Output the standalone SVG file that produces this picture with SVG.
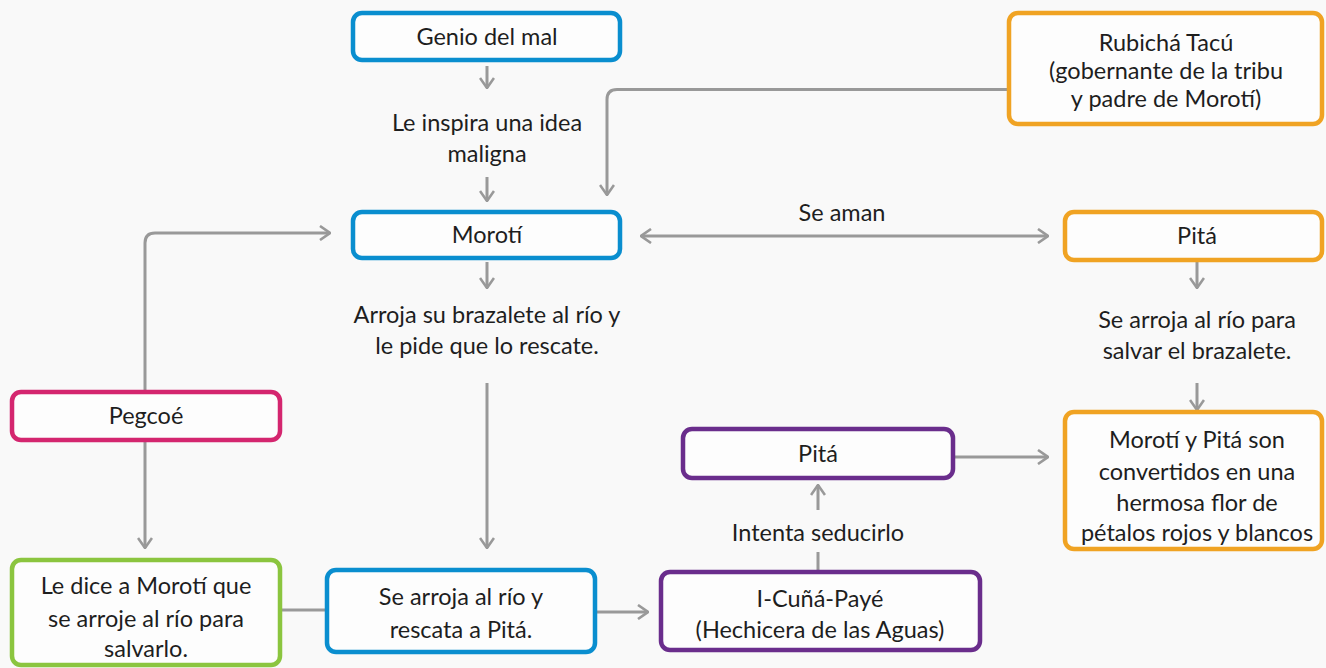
<svg xmlns="http://www.w3.org/2000/svg" width="1326" height="668" viewBox="0 0 1326 668">
<defs>
<marker id="ah" viewBox="0 0 12 16" refX="11" refY="8" markerWidth="12" markerHeight="16" markerUnits="userSpaceOnUse" orient="auto-start-reverse">
<path d="M1,1 L11,8 L1,15" fill="none" stroke="#999999" stroke-width="2.6"/>
</marker>
<style>
.bx{fill:#fdfdfd;stroke-width:4.5}
.blue{stroke:#0a8ecf}
.orange{stroke:#f0a323}
.pink{stroke:#d4266f}
.green{stroke:#8bc53f}
.purple{stroke:#6a2d8c}
text{font-family:Lato,"Liberation Sans",sans-serif;font-size:23.5px;fill:#1e1e1e;text-anchor:middle}
.c{fill:none;stroke:#999999;stroke-width:3}
</style>
</defs>
<rect width="1326" height="668" fill="#f9f9f9"/>
<g id="connectors">
<path class="c" d="M487,66 V88" marker-end="url(#ah)"/>
<path class="c" d="M487,177 V201" marker-end="url(#ah)"/>
<path class="c" d="M1008,89.5 H617 Q607,89.5 607,99.5 V195" marker-end="url(#ah)"/>
<path class="c" d="M641,236 H1048" marker-start="url(#ah)" marker-end="url(#ah)"/>
<path class="c" d="M487,262 V288" marker-end="url(#ah)"/>
<path class="c" d="M1197,262 V288" marker-end="url(#ah)"/>
<path class="c" d="M1197,383 V410" marker-end="url(#ah)"/>
<path class="c" d="M145,392 V243 Q145,233 155,233 H330" marker-end="url(#ah)"/>
<path class="c" d="M145,440 V548" marker-end="url(#ah)"/>
<path class="c" d="M487,383 V548" marker-end="url(#ah)"/>
<path class="c" d="M280,610 H327"/>
<path class="c" d="M595,612 H648" marker-end="url(#ah)"/>
<path class="c" d="M818,570 V552"/>
<path class="c" d="M818,510 V485" marker-end="url(#ah)"/>
<path class="c" d="M953,457 H1048" marker-end="url(#ah)"/>
<text x="842" y="221">Se aman</text>
<text x="487" y="131">Le inspira una idea</text>
<text x="487" y="162">maligna</text>
<text x="487" y="323">Arroja su brazalete al río y</text>
<text x="487" y="354">le pide que lo rescate.</text>
<text x="1197" y="328">Se arroja al río para</text>
<text x="1197" y="359">salvar el brazalete.</text>
<text x="818" y="541">Intenta seducirlo</text>
</g>
<g id="genio">
<rect class="bx blue" x="353" y="13" width="267" height="47" rx="9"/>
<text x="487" y="45">Genio del mal</text>
</g>
<g id="rubicha">
<rect class="bx orange" x="1009" y="13" width="313" height="111" rx="9"/>
<text x="1166" y="51">Rubichá Tacú</text>
<text x="1166" y="79">(gobernante de la tribu</text>
<text x="1166" y="107">y padre de Morotí)</text>
</g>
<g id="moroti">
<rect class="bx blue" x="353" y="212" width="267" height="46" rx="9"/>
<text x="487" y="243">Morotí</text>
</g>
<g id="pita1">
<rect class="bx orange" x="1065" y="212" width="257" height="48" rx="9"/>
<text x="1197" y="244">Pitá</text>
</g>
<g id="pegcoe">
<rect class="bx pink" x="12" y="392" width="268" height="48" rx="9"/>
<text x="146" y="424">Pegcoé</text>
</g>
<g id="pita2">
<rect class="bx purple" x="683" y="429" width="270" height="49" rx="9"/>
<text x="818" y="462">Pitá</text>
</g>
<g id="flor">
<rect class="bx orange" x="1065" y="412" width="257" height="137" rx="9"/>
<text x="1197" y="448">Morotí y Pitá son</text>
<text x="1197" y="480">convertidos en una</text>
<text x="1197" y="511">hermosa flor de</text>
<text x="1197" y="541">pétalos rojos y blancos</text>
</g>
<g id="ledice">
<rect class="bx green" x="12" y="560" width="268" height="105" rx="9"/>
<text x="146" y="594">Le dice a Morotí que</text>
<text x="146" y="627">se arroje al río para</text>
<text x="146" y="657">salvarlo.</text>
</g>
<g id="rescata">
<rect class="bx blue" x="327" y="570" width="268" height="82" rx="9"/>
<text x="461" y="605">Se arroja al río y</text>
<text x="461" y="638">rescata a Pitá.</text>
</g>
<g id="icuna">
<rect class="bx purple" x="661" y="572" width="319" height="78" rx="9"/>
<text x="820" y="607">I-Cuñá-Payé</text>
<text x="820" y="638">(Hechicera de las Aguas)</text>
</g>
</svg>
